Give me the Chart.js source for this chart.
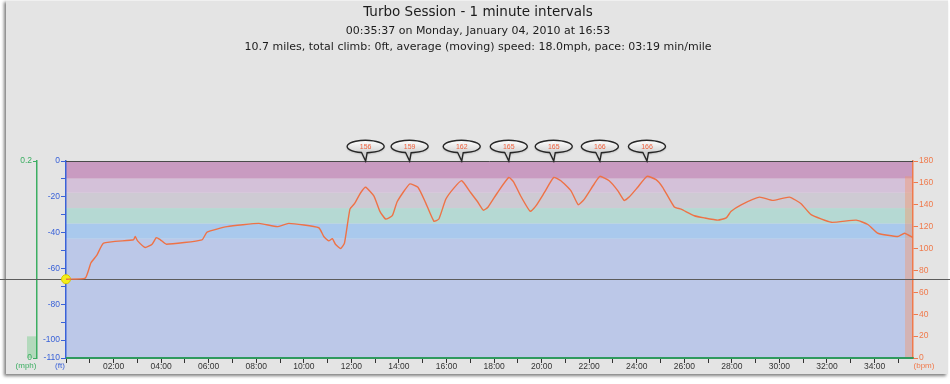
<!DOCTYPE html>
<html><head><meta charset="utf-8">
<script src="https://cdn.jsdelivr.net/npm/chart.js@4.4.1/dist/chart.umd.min.js"></script>
<style>
html,body{margin:0;padding:0;background:#fff;width:950px;height:384px;overflow:hidden}
#panel{position:absolute;left:6px;top:0;width:942px;height:374px;background:#e4e4e4;box-shadow:-2px 2px 3px rgba(0,0,0,0.5);border-top:1px solid #f0f0f0;box-sizing:border-box}
#wrap{position:absolute;left:0;top:0;width:950px;height:384px}
</style></head><body>
<div id="panel"></div>
<div id="wrap"><canvas id="c" width="950" height="384"></canvas></div>
<script>
// ---- text ----
const titleText = 'Turbo Session - 1 minute intervals';
const subtitleLines = [
  '00:35:37 on Monday, January 04, 2010 at 16:53',
  '10.7 miles, total climb: 0ft, average (moving) speed: 18.0mph, pace: 03:19 min/mile'
];
const unitLabels = { speed: '(mph)', alt: '(ft)', hr: '(bpm)' };

// ---- data (time in minutes) ----
const sessionMinutes = 35 + 37 / 60;
const hrTimes = [0.00,0.81,1.05,1.30,1.58,2.84,2.91,3.01,3.33,3.62,3.80,3.97,4.22,5.72,5.93,6.77,8.11,8.88,9.37,10.63,
  10.84,11.05,11.20,11.33,11.55,11.71,11.94,12.13,12.39,12.60,12.95,13.20,13.44,13.72,13.93,14.45,14.80,15.12,15.47,15.68,
  15.97,16.30,16.64,17.02,17.30,17.55,17.75,18.14,18.62,18.82,19.12,19.52,19.76,20.11,20.51,20.81,21.23,21.54,21.79,22.21,
  22.45,22.84,23.20,23.47,23.68,24.04,24.43,24.81,25.09,25.58,25.86,26.42,26.84,27.41,27.76,27.97,28.39,29.16,29.72,30.42,
  30.91,31.33,32.18,33.23,33.72,34.14,34.98,35.26,35.62];
const hrBpm = [72,73,87,94,105,108,111,107,101,104,110,108,104,108,115,120,123,120,123,119,
  111,107,109,104,100,105,136,141,151,156,148,134,127,130,143,159,156,142,125,127,
  145,155,162,151,143,135,138,151,165,161,148,134,139,151,165,162,153,140,145,159,
  166,162,153,144,147,156,166,163,156,138,136,130,128,126,128,134,140,147,144,147,
  141,131,124,126,122,114,111,114,110];
const altTimes = [0, 35.62];
const altFt = [-66, -66];
const speedTimes = [0, 35.62];
const speedMph = [0, 0];
const speedBand = [0, 0.022];

// lap peak callouts
const peakTimes = [12.60, 14.45, 16.64, 18.62, 20.51, 22.45, 24.43];
const peakBpm = [156, 159, 162, 165, 165, 166, 166];

// heart-rate zones (bpm)
const zoneEdges = [0, 109, 123, 137, 151, 164, 180];
const zoneColors = ['#bcc8e8', '#a9c9ed', '#b5d9d3', '#cecad3', '#d4c1d9', '#c99bc1'];

// axis ranges / ticks
const altRange = [-110, 0];
const hrRange = [0, 180];
const speedRange = [0, 0.2];

const C_GREEN = '#3cae62', C_BLUE = '#3a62d8', C_ORANGE = '#f07a4c';
const TICK_FONT = { family: 'Liberation Sans', size: 8.5 };

const pad2 = n => (n < 10 ? '0' : '') + n;

const zonePlugin = {
  id: 'zones',
  beforeDraw(chart) {
    const { ctx, chartArea: a, scales } = chart;
    const hr = scales.hr, sp = scales.speed;
    ctx.save();
    for (let i = 0; i < zoneColors.length; i++) {
      const y1 = hr.getPixelForValue(zoneEdges[i + 1]);
      const y0 = hr.getPixelForValue(zoneEdges[i]);
      ctx.fillStyle = zoneColors[i];
      ctx.fillRect(a.left, y1, a.right - a.left, y0 - y1);
    }
    // HR range strip at right edge
    const hmax = Math.max(...hrBpm);
    const yt = hr.getPixelForValue(hmax), yb = hr.getPixelForValue(0);
    ctx.fillStyle = 'rgba(242,150,108,0.42)';
    ctx.fillRect(a.right - 8, yt, 8, yb - yt);
    // speed range strip
    const st = sp.getPixelForValue(speedBand[1]), sb = sp.getPixelForValue(speedBand[0]);
    ctx.fillStyle = 'rgba(120,205,140,0.45)';
    ctx.fillRect(sp.right - 10, st, 9, sb - st);
    ctx.restore();
  },
  beforeDatasetsDraw(chart) {
    const { ctx, chartArea: a, scales } = chart;
    ctx.save();
    ctx.strokeStyle = '#4a4a4a';
    ctx.lineWidth = 1;
    ctx.beginPath();
    ctx.moveTo(a.left, a.top + 0.5); ctx.lineTo(a.right, a.top + 0.5); ctx.stroke();
    // crosshair at altitude value, across the full width
    const y = Math.round(scales.alt.getPixelForValue(altFt[0])) + 0.5;
    ctx.strokeStyle = '#5c5c5c';
    ctx.beginPath();
    ctx.moveTo(0, y); ctx.lineTo(chart.width, y); ctx.stroke();
    ctx.restore();
  },
  afterDraw(chart) {
    const { ctx, chartArea: a, scales } = chart;
    ctx.save();
    ctx.font = '8px "Liberation Sans"';
    ctx.textAlign = 'center';
    ctx.textBaseline = 'middle';
    const uy = a.bottom + 8;
    ctx.fillStyle = C_GREEN; ctx.fillText(unitLabels.speed, scales.speed.right - 11, uy);
    ctx.fillStyle = C_BLUE; ctx.fillText(unitLabels.alt, scales.alt.right - 6, uy);
    ctx.fillStyle = C_ORANGE; ctx.fillText(unitLabels.hr, scales.hr.left + 11, uy);
    // callouts
    peakTimes.forEach((t, i) => {
      const px = scales.x.getPixelForValue(t);
      const cy = a.top - 14.5, rx = 18.5, ry = 6.2;
      ctx.beginPath();
      ctx.ellipse(px, cy, rx, ry, 0, Math.PI * 0.57, Math.PI * 0.43 + Math.PI * 2, false);
      ctx.lineTo(px + 1.5, cy + ry);
      ctx.lineTo(px, a.top);
      ctx.closePath();
      const g = ctx.createLinearGradient(0, cy - ry, 0, cy + ry);
      g.addColorStop(0, '#ffffff'); g.addColorStop(1, '#d2d2d2');
      ctx.shadowColor = 'rgba(0,0,0,0.35)'; ctx.shadowBlur = 2; ctx.shadowOffsetY = 1;
      ctx.fillStyle = g; ctx.fill();
      ctx.shadowColor = 'transparent';
      ctx.strokeStyle = '#262626'; ctx.lineWidth = 1.4; ctx.stroke();
      ctx.fillStyle = '#f0603c';
      ctx.font = '7px "Liberation Sans"';
      ctx.fillText(String(peakBpm[i]), px, cy + 0.5);
    });
    ctx.restore();
  }
};

new Chart(document.getElementById('c'), {
  type: 'line',
  data: {
    datasets: [
      {
        label: 'Heart rate', xAxisID: 'x', yAxisID: 'hr',
        data: hrTimes.map((t, i) => ({ x: t, y: hrBpm[i] })),
        borderColor: '#ee7246', borderWidth: 1.4, pointRadius: 0, tension: 0.15
      },
      {
        label: 'Altitude', xAxisID: 'x', yAxisID: 'alt',
        data: altTimes.map((t, i) => ({ x: t, y: altFt[i] })),
        borderColor: 'rgba(0,0,0,0)', borderWidth: 0,
        pointRadius: ctx => (ctx.dataIndex === 0 ? 4.5 : 0),
        pointBackgroundColor: '#f4ee1a', pointBorderColor: '#d6c800', pointBorderWidth: 1,
        clip: false
      },
      {
        label: 'Speed', xAxisID: 'x', yAxisID: 'speed',
        data: speedTimes.map((t, i) => ({ x: t, y: speedMph[i] })),
        borderColor: '#2f9a5e', borderWidth: 2, pointRadius: 0, clip: false
      }
    ]
  },
  options: {
    responsive: false, animation: false,
    layout: { padding: { left: 6, right: 0, top: 0, bottom: 0 } },
    plugins: {
      legend: { display: false }, tooltip: { enabled: false },
      title: {
        display: true, text: titleText, color: '#1c1c1c',
        font: { family: 'DejaVu Sans', size: 13.5, weight: 'normal', lineHeight: 1 },
        padding: { top: 6, bottom: 4 }
      },
      subtitle: {
        display: true, text: subtitleLines, color: '#1c1c1c',
        font: { family: 'DejaVu Sans', size: 11, weight: 'normal', lineHeight: 16 / 11 },
        padding: { top: 0, bottom: 105.5 }
      }
    },
    scales: {
      x: {
        type: 'linear', position: 'bottom', min: 0, max: sessionMinutes,
        afterFit: s => { s.height = 26; },
        border: { display: true, color: '#2f9a5e', width: 2 },
        grid: { drawOnChartArea: false, drawTicks: true, tickLength: 5, color: '#333', tickWidth: 1 },
        ticks: {
          stepSize: 1, includeBounds: false, autoSkip: false, maxRotation: 0, padding: -1,
          color: '#333', font: TICK_FONT,
          callback: v => (v > 0 && v % 2 === 0 ? pad2(v) + ':00' : '')
        }
      },
      speed: {
        type: 'linear', position: 'left', weight: 2, min: speedRange[0], max: speedRange[1],
        afterFit: s => { s.width = 31; },
        afterBuildTicks: s => { s.ticks = speedRange.map(v => ({ value: v })); },
        border: { display: true, color: C_GREEN, width: 1.5 },
        grid: { drawOnChartArea: false, tickLength: 4, color: C_GREEN },
        ticks: { color: C_GREEN, font: TICK_FONT, padding: 1, callback: v => (v === 0 ? '0' : v.toFixed(1)) }
      },
      alt: {
        type: 'linear', position: 'left', weight: 1, min: altRange[0], max: altRange[1],
        afterFit: s => { s.width = 29; },
        border: { display: true, color: C_BLUE, width: 1.5 },
        grid: { drawOnChartArea: false, tickLength: 5, color: C_BLUE },
        ticks: {
          stepSize: 10, autoSkip: false, color: C_BLUE, font: TICK_FONT, padding: 1,
          callback: v => (v % 20 === 0 || v === altRange[0] ? String(v) : '')
        }
      },
      hr: {
        type: 'linear', position: 'right', min: hrRange[0], max: hrRange[1],
        afterFit: s => { s.width = 37; },
        border: { display: true, color: C_ORANGE, width: 1.5 },
        grid: { drawOnChartArea: false, tickLength: 5, color: C_ORANGE },
        ticks: { stepSize: 20, autoSkip: false, color: C_ORANGE, font: TICK_FONT, padding: 1 }
      }
    }
  },
  plugins: [zonePlugin]
});
</script>
</body></html>
